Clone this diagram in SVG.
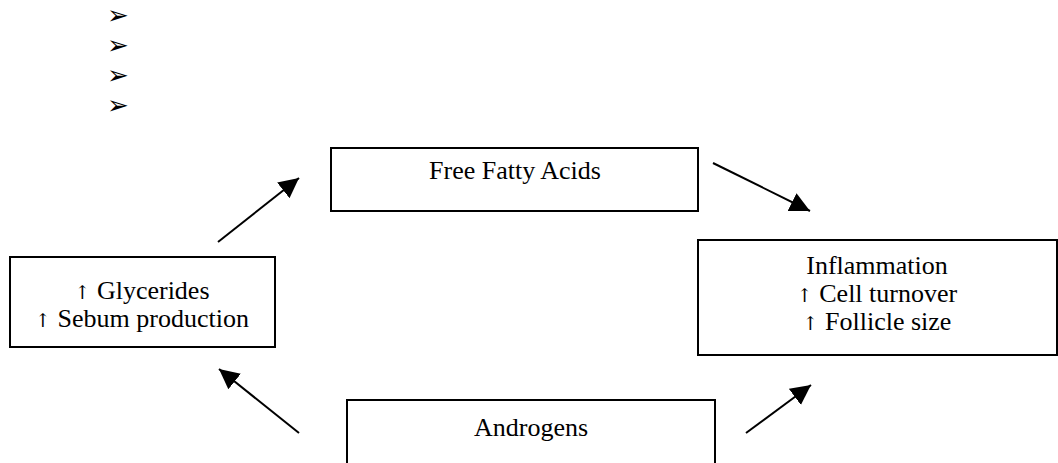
<svg xmlns="http://www.w3.org/2000/svg" width="1058" height="463" viewBox="0 0 1058 463">
<style>
.box{fill:#fff;stroke:#000;stroke-width:2}
.t{font-family:"Liberation Serif","Times New Roman",serif;font-size:26px;fill:#000;text-anchor:middle}
.a{font-family:"DejaVu Serif",serif;font-size:19px;fill:#000}
.b{font-family:"DejaVu Sans",sans-serif;font-size:26px;fill:#000}
.c{stroke:#000;stroke-width:2;fill:none;marker-end:url(#ah)}
</style>
<defs>
<marker id="ah" markerUnits="userSpaceOnUse" markerWidth="22" markerHeight="22" refX="20" refY="10" orient="auto">
<path d="M0,0 L20,10 L0,20 z" fill="#000"/>
</marker>
</defs>
<g id="bullets">
<text class="b" x="107" y="24">➢</text>
<text class="b" x="107" y="54">➢</text>
<text class="b" x="107" y="84">➢</text>
<text class="b" x="107" y="114">➢</text>
</g>
<g id="node-ffa">
<rect class="box" x="331" y="148" width="367" height="63"/>
<text class="t" x="515" y="179">Free Fatty Acids</text>
</g>
<g id="node-glycerides">
<rect class="box" x="10" y="257" width="265" height="90"/>
<text class="t" x="142" y="299"><tspan class="a">↑</tspan> Glycerides</text>
<text class="t" x="142" y="327"><tspan class="a">↑</tspan> Sebum production</text>
</g>
<g id="node-inflammation">
<rect class="box" x="698" y="240" width="359" height="115"/>
<text class="t" x="877" y="274">Inflammation</text>
<text class="t" x="877" y="302"><tspan class="a">↑</tspan> Cell turnover</text>
<text class="t" x="877" y="330"><tspan class="a">↑</tspan> Follicle size</text>
</g>
<g id="node-androgens">
<rect class="box" x="347" y="400" width="368" height="80"/>
<text class="t" x="531" y="436">Androgens</text>
</g>
<g id="connectors">
<line class="c" x1="218" y1="242" x2="299" y2="178"/>
<line class="c" x1="713" y1="163" x2="810" y2="211"/>
<line class="c" x1="299" y1="433" x2="219" y2="369"/>
<line class="c" x1="746" y1="433" x2="811" y2="385"/>
</g>
</svg>
